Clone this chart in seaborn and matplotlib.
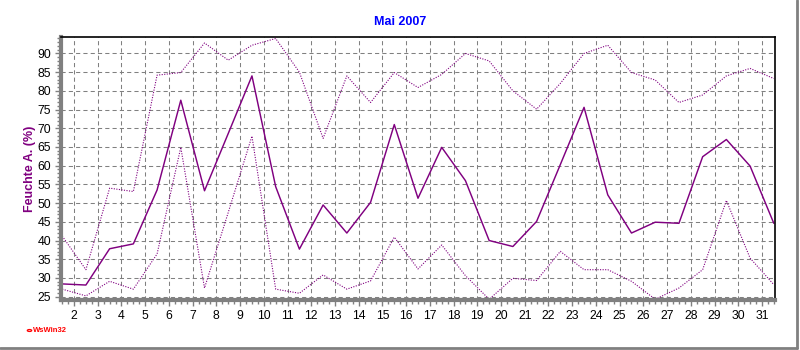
import numpy as np
import pandas as pd
import matplotlib
matplotlib.use("Agg")
import matplotlib.pyplot as plt
import seaborn as sns
from matplotlib.ticker import MultipleLocator

# Data (Mai 2007, Feuchte Aussen)
days = list(range(1, 32))

hum_mean = [28.4, 28.1, 37.8, 39.1, 53.5, 77.5, 53.3, 68.6, 84.0, 54.4,
            37.7, 49.5, 42.0, 50.2, 71.0, 51.3, 64.9, 56.0, 40.0, 38.4,
            45.1, 60.3, 75.6, 52.2, 42.0, 44.9, 44.6, 62.4, 67.0, 59.9,
            44.6]
hum_max = [41.2, 32.2, 54.0, 53.1, 84.2, 84.9, 92.8, 88.2, 92.2, 94.0,
           85.0, 67.3, 84.0, 76.9, 84.9, 80.9, 84.4, 90.0, 88.0, 80.0,
           75.1, 82.0, 90.0, 92.2, 84.9, 82.9, 76.9, 78.9, 84.0, 86.0,
           83.3]
hum_min = [27.0, 25.2, 29.1, 27.0, 36.4, 64.9, 27.3, 47.5, 67.9, 27.0,
           25.9, 30.8, 27.0, 29.2, 40.9, 32.4, 38.8, 30.6, 24.3, 29.9,
           29.3, 37.1, 32.2, 32.2, 29.1, 24.3, 27.3, 32.2, 50.7, 35.3,
           28.2]

tick_days = list(range(2, 32))
y_ticks = list(range(25, 95, 5))

df = pd.DataFrame({
    "x": [d + 0.5 for d in days],
    "mean": hum_mean,
    "max": hum_max,
    "min": hum_min,
})

sns.set_style("white")
plt.rcParams["font.family"] = ["Liberation Sans", "DejaVu Sans"]

purple = "#800080"

fig = plt.figure(figsize=(8, 3.5), dpi=100)
ax = fig.add_axes([61 / 800, 1 - 300 / 350, 714 / 800, 263 / 350])

sns.lineplot(data=df, x="x", y="max", ax=ax, color=purple,
             linestyle=(0, (1, 1.3)), linewidth=0.8)
sns.lineplot(data=df, x="x", y="min", ax=ax, color=purple,
             linestyle=(0, (1, 1.3)), linewidth=0.8)
sns.lineplot(data=df, x="x", y="mean", ax=ax, color=purple,
             linewidth=1.05)

ax.set_xlim(1.45, 31.55)
ax.set_ylim(24.1, 94.4)

ax.set_xticks(tick_days)
ax.set_xticklabels([str(d) for d in tick_days])
ax.xaxis.set_minor_locator(MultipleLocator(0.25))
ax.set_yticks(y_ticks)
ax.yaxis.set_minor_locator(MultipleLocator(1))

ax.grid(True, which="major", color="#808080", linestyle=(0, (4, 3)),
        linewidth=0.75)
ax.set_axisbelow(True)

ax.tick_params(axis="both", which="major", direction="out", length=4,
               width=1, color="#808080", labelsize=8.8, pad=3,
               labelcolor="black")
ax.tick_params(axis="both", which="minor", direction="out", length=3,
               width=1, color="#808080")
ax.tick_params(axis="x", which="both", bottom=True)
ax.tick_params(axis="y", which="both", left=True)

for side in ["left", "bottom"]:
    ax.spines[side].set_color("#808080")
    ax.spines[side].set_linewidth(3)
for side in ["top", "right"]:
    ax.spines[side].set_color("black")
    ax.spines[side].set_linewidth(1.2)

ax.set_xlabel("")
ax.set_ylabel("Feuchte A. (%)", color=purple, fontweight="bold",
              fontsize=9)
ax.yaxis.set_label_coords(-0.035, 0.5)

fig.text(0.5, 1 - 22 / 350, "Mai 2007", color="#0000ff",
         fontweight="bold", fontsize=9, ha="center", va="center")

# program logo bottom left
fig.text(33 / 800, 1 - 331 / 350, "WsWin32", color="red",
         fontweight="bold", fontsize=5.5, ha="left", va="center")
fig.patches.append(plt.Circle((29.5 / 800, 1 - 330.5 / 350), 2.2 / 800,
                              transform=fig.transFigure,
                              facecolor="none", edgecolor="red",
                              linewidth=0.9))

# gray frame at right and bottom of the picture
fig.add_artist(plt.Line2D([797 / 800, 797 / 800], [2 / 350, 1], color="#808080",
                          linewidth=2, transform=fig.transFigure))
fig.add_artist(plt.Line2D([0, 797 / 800], [2 / 350, 2 / 350], color="#808080",
                          linewidth=2, transform=fig.transFigure))

fig.savefig("out.png", dpi=100)
